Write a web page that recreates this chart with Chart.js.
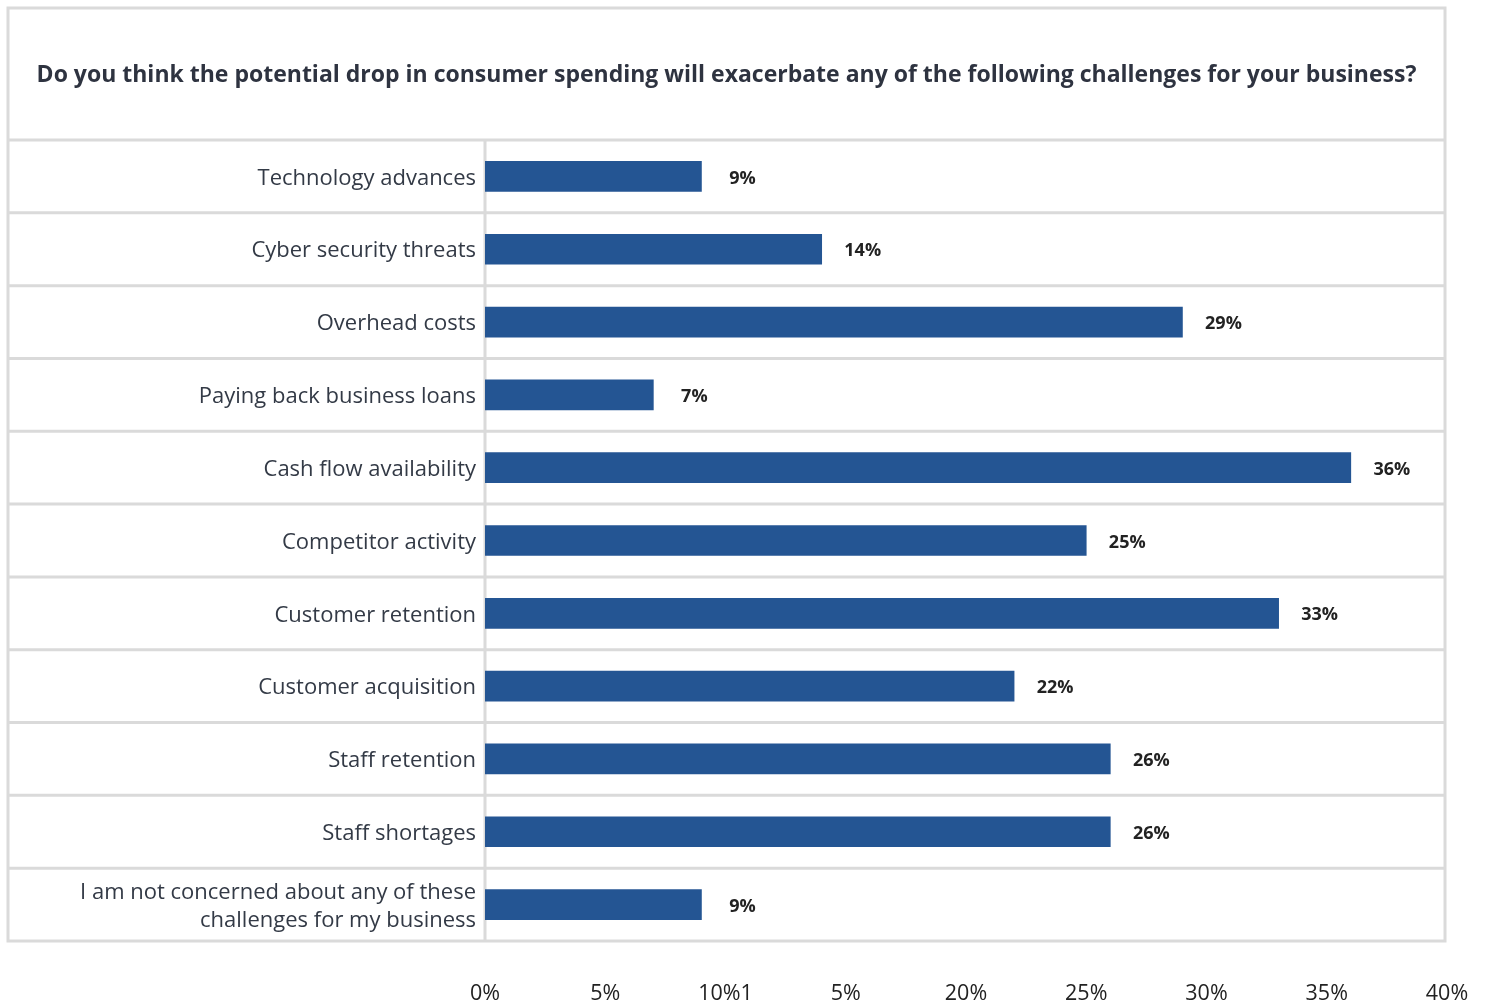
<!DOCTYPE html>
<html>
<head>
<meta charset="utf-8">
<script src="https://cdn.jsdelivr.net/npm/chart.js@4/dist/chart.umd.min.js"></script>
<style>
  html, body { margin: 0; padding: 0; background: #ffffff; }
  #wrap { width: 1487px; height: 1000px; }
</style>
</head>
<body>
<div id="wrap"><canvas id="challengesChart" width="1487" height="1000"></canvas></div>
<script>
var questionTitle = 'Do you think the potential drop in consumer spending will exacerbate any of the following challenges for your business?';
var challenges = [
    'Technology advances',
    'Cyber security threats',
    'Overhead costs',
    'Paying back business loans',
    'Cash flow availability',
    'Competitor activity',
    'Customer retention',
    'Customer acquisition',
    'Staff retention',
    'Staff shortages',
    ['I am not concerned about any of these', 'challenges for my business']
];
var shares = [9, 14, 29, 7, 36, 25, 33, 22, 26, 26, 9]; // percent of respondents
var xTickLabels = ['0%', '5%', '10%1', '5%', '20%', '25%', '30%', '35%', '40%'];

var FONT = '"Open Sans", Lato, sans-serif';
var LINE = '#dadada';

// frame, title row and row separators spanning the whole table
var tableFrame = {
    id: 'tableFrame',
    beforeDraw: function (chart) {
        var ctx = chart.ctx;
        var area = chart.chartArea;
        var left = 8, right = 1445, top = 8;
        ctx.save();
        ctx.strokeStyle = LINE;
        ctx.lineWidth = 3;
        ctx.strokeRect(left, top, right - left, area.bottom - top);
        var n = challenges.length;
        var rowH = (area.bottom - area.top) / n;
        for (var i = 0; i < n; i++) {
            var y = area.top + i * rowH;
            ctx.beginPath();
            ctx.moveTo(left, y);
            ctx.lineTo(right, y);
            ctx.stroke();
        }
        ctx.beginPath();
        ctx.moveTo(area.left, area.top);
        ctx.lineTo(area.left, area.bottom);
        ctx.stroke();

        ctx.fillStyle = '#2e3340';
        ctx.font = 'bold 23px ' + FONT;
        ctx.textAlign = 'center';
        ctx.textBaseline = 'middle';
        ctx.fillText(questionTitle, (left + right) / 2, 75);
        ctx.restore();
    }
};

// bold value labels to the right of each bar
var barValues = {
    id: 'barValues',
    afterDatasetsDraw: function (chart) {
        var ctx = chart.ctx;
        var meta = chart.getDatasetMeta(0);
        ctx.save();
        ctx.fillStyle = '#222222';
        ctx.font = 'bold 18px ' + FONT;
        ctx.textAlign = 'center';
        ctx.textBaseline = 'middle';
        meta.data.forEach(function (bar, i) {
            ctx.fillText(shares[i] + '%', bar.x + 41, bar.y + 2);
        });
        ctx.restore();
    }
};

var ctx1 = document.getElementById('challengesChart').getContext('2d');
var challengesChart = new Chart(ctx1, {
    type: 'bar',
    data: {
        labels: challenges,
        datasets: [{
            label: 'Share of businesses',
            data: shares,
            backgroundColor: '#245593',
            barThickness: 30
        }]
    },
    options: {
        indexAxis: 'y',
        responsive: false,
        animation: false,
        layout: {
            padding: { top: 140, right: 40, left: 0, bottom: 0 }
        },
        scales: {
            x: {
                min: 0,
                max: 40,
                ticks: {
                    stepSize: 5,
                    padding: 40,
                    color: '#222222',
                    font: { family: FONT, size: 21.5 },
                    callback: function (value, index) {
                        return xTickLabels[index];
                    }
                },
                grid: { display: false, drawTicks: false },
                border: { display: false },
                afterFit: function (scale) {
                    scale.height = 59;
                    scale.paddingLeft = 0;
                    scale.paddingRight = 0;
                }
            },
            y: {
                ticks: {
                    padding: 9,
                    labelOffset: 2,
                    color: '#333a46',
                    font: { family: FONT, size: 22, lineHeight: 1.28 }
                },
                grid: { display: false, drawTicks: false },
                border: { display: false },
                afterFit: function (scale) { scale.width = 485; }
            }
        },
        plugins: {
            legend: { display: false },
            tooltip: { enabled: false }
        }
    },
    plugins: [tableFrame, barValues]
});
</script>
</body>
</html>
